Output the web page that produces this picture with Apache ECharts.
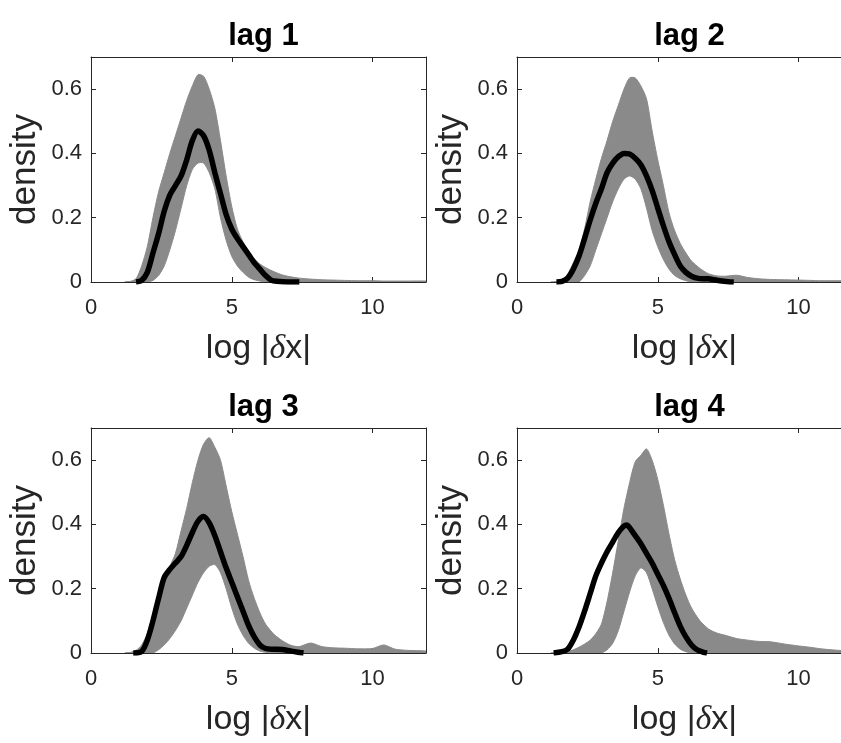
<!DOCTYPE html>
<html><head><meta charset="utf-8">
<script src="https://cdn.jsdelivr.net/npm/echarts@6/dist/echarts.min.js"></script>
<style>html,body{margin:0;padding:0;background:#fff}#c{width:841px;height:743px}</style>
</head><body><div id="c"></div>
<script>
// ---- data ----
const titles = ['lag 1', 'lag 2', 'lag 3', 'lag 4'];
const xTicks = [0, 5, 10];
const yTicks = [0, 0.2, 0.4, 0.6];
const xRange = [0, 11.9];
const yRange = [0, 0.7];
const xName = 'log |{d|δ}x|';
const yName = 'density';

// common x grid of the grey bootstrap band (upper / lower envelope of all grey curves)
const gx = [1.2,1.4,1.6,1.8,2.0,2.2,2.4,2.6,2.8,3.0,3.2,3.4,3.6,3.8,4.0,4.2,4.4,4.6,4.8,5.0,5.2,5.4,5.6,5.8,6.0,6.2,6.5,6.8,7.1,7.4,7.8,8.2,8.6,9.0,9.5,10.0,10.4,10.8,11.3,11.9];

const upper1 = [0,0.002,0.01,0.05,0.11,0.2,0.28,0.34,0.4,0.455,0.51,0.565,0.61,0.645,0.64,0.6,0.54,0.44,0.33,0.235,0.165,0.125,0.095,0.072,0.056,0.045,0.032,0.022,0.016,0.012,0.009,0.007,0.006,0.005,0.004,0.004,0.003,0.003,0.003,0.003];
const lower1 = [0,0,0,0,0,0.005,0.02,0.05,0.1,0.16,0.23,0.3,0.35,0.37,0.37,0.34,0.29,0.2,0.13,0.08,0.05,0.03,0.015,0.007,0.003,0,0,0,0,0,0,0,0,0,0,0,0,0,0,0];

const upper2 = [0,0.001,0.006,0.025,0.06,0.1,0.165,0.25,0.32,0.385,0.44,0.5,0.55,0.6,0.635,0.635,0.61,0.57,0.47,0.38,0.3,0.215,0.16,0.12,0.09,0.065,0.042,0.026,0.019,0.018,0.021,0.014,0.01,0.008,0.007,0.006,0.005,0.004,0.004,0.003];
const lower2 = [0,0,0,0,0,0,0.02,0.05,0.1,0.15,0.2,0.25,0.29,0.32,0.33,0.32,0.29,0.23,0.16,0.11,0.07,0.04,0.02,0.01,0.004,0,0,0,0,0,0,0,0,0,0,0,0,0,0,0];

const upper3 = [0,0.002,0.008,0.025,0.06,0.12,0.185,0.24,0.27,0.31,0.38,0.45,0.53,0.6,0.65,0.67,0.64,0.6,0.52,0.44,0.37,0.3,0.225,0.17,0.125,0.09,0.058,0.038,0.024,0.02,0.031,0.02,0.016,0.015,0.013,0.014,0.025,0.012,0.008,0.006];
const lower3 = [0,0,0,0,0,0,0.01,0.025,0.045,0.07,0.1,0.14,0.18,0.22,0.25,0.27,0.275,0.25,0.2,0.14,0.09,0.055,0.03,0.015,0.006,0.002,0,0,0,0,0,0,0,0,0,0,0,0,0,0];

const upper4 = [0,0,0.002,0.005,0.01,0.018,0.028,0.04,0.06,0.09,0.16,0.25,0.35,0.45,0.53,0.595,0.615,0.635,0.6,0.54,0.46,0.37,0.29,0.23,0.18,0.14,0.1,0.075,0.062,0.055,0.045,0.04,0.036,0.035,0.028,0.022,0.018,0.013,0.009,0.005];
const lower4 = [0,0,0,0,0,0,0,0,0,0,0.01,0.03,0.07,0.13,0.19,0.24,0.265,0.25,0.2,0.145,0.095,0.055,0.028,0.012,0.004,0,0,0,0,0,0,0,0,0,0,0,0,0,0,0];

// thick black density curve of each panel
const black1X = [1.6,1.8,2.0,2.2,2.4,2.6,2.8,3.0,3.2,3.4,3.6,3.8,4.0,4.2,4.4,4.6,4.8,5.0,5.2,5.4,5.6,5.8,6.0,6.2,6.4,6.6,7.0,7.4];
const black1Y = [0,0.005,0.03,0.09,0.15,0.22,0.27,0.30,0.33,0.38,0.44,0.47,0.455,0.41,0.34,0.275,0.21,0.165,0.135,0.11,0.085,0.06,0.04,0.02,0.006,0.002,0,0];

const black2X = [1.4,1.6,1.8,2.0,2.2,2.4,2.6,2.8,3.0,3.2,3.4,3.6,3.8,4.0,4.2,4.4,4.6,4.8,5.0,5.2,5.4,5.6,5.8,6.0,6.2,6.4,6.6,6.8,7.0,7.2,7.5,7.7];
const black2Y = [0,0.002,0.012,0.04,0.08,0.135,0.193,0.245,0.29,0.34,0.37,0.39,0.40,0.398,0.385,0.365,0.33,0.285,0.23,0.175,0.125,0.085,0.05,0.03,0.018,0.012,0.01,0.01,0.007,0.004,0.001,0];

const black3X = [1.5,1.8,2.0,2.2,2.4,2.6,2.8,3.0,3.2,3.4,3.6,3.8,4.0,4.2,4.4,4.6,4.8,5.0,5.2,5.4,5.6,5.8,6.0,6.2,6.4,6.6,6.8,7.0,7.3,7.55];
const black3Y = [0,0.005,0.04,0.1,0.17,0.235,0.26,0.28,0.3,0.335,0.375,0.41,0.425,0.405,0.365,0.315,0.265,0.22,0.175,0.13,0.085,0.05,0.025,0.014,0.012,0.012,0.011,0.008,0.003,0];

const black4X = [1.3,1.6,1.8,2.0,2.2,2.4,2.6,2.8,3.0,3.2,3.4,3.6,3.8,3.9,4.0,4.2,4.4,4.6,4.8,5.0,5.2,5.4,5.6,5.8,6.0,6.2,6.4,6.6,6.75];
const black4Y = [0,0.004,0.012,0.04,0.08,0.13,0.185,0.24,0.28,0.315,0.345,0.375,0.395,0.398,0.39,0.365,0.34,0.31,0.28,0.245,0.21,0.17,0.125,0.083,0.05,0.025,0.01,0.003,0];

// ---- build chart ----
const panels = [
  {U: upper1, L: lower1, bx: black1X, by: black1Y},
  {U: upper2, L: lower2, bx: black2X, by: black2Y},
  {U: upper3, L: lower3, bx: black3X, by: black3Y},
  {U: upper4, L: lower4, bx: black4X, by: black4Y}
];
const gridPos = [[91, 57], [517, 57], [91, 428], [517, 428]];
const GW = 335, GH = 225;
const AX = '#262626';
const FONT = '"Liberation Sans", Arial, sans-serif';
const BAND = '#8a8a8a';

const grid = [], xAxis = [], yAxis = [], series = [], title = [];
panels.forEach((p, i) => {
  const [l, t] = gridPos[i];
  grid.push({left: l, top: t, width: GW, height: GH, containLabel: false, outerBoundsMode: 'none'});
  title.push({text: titles[i], left: l + GW / 2, top: t - 41, textAlign: 'center',
    textStyle: {fontSize: 31, fontWeight: 'bold', color: '#000', fontFamily: FONT}});
  const lineSt = {show: true, onZero: false, lineStyle: {color: AX, width: 1}};
  xAxis.push({gridIndex: i, type: 'value', min: xRange[0], max: xRange[1], position: 'bottom',
    axisLine: lineSt,
    axisTick: {show: true, inside: true, length: 5, customValues: xTicks, lineStyle: {color: AX}},
    axisLabel: {show: true, customValues: xTicks, margin: 15, fontSize: 22, color: AX, fontFamily: FONT,
      formatter: v => xTicks.includes(v) ? String(v) : ''},
    splitLine: {show: false},
    name: xName, nameLocation: 'middle', nameGap: 50, nameMoveOverlap: false,
    nameTextStyle: {fontSize: 34, color: AX, fontFamily: FONT,
      rich: {d: {fontSize: 34, fontStyle: 'italic', fontFamily: '"Liberation Serif", serif', color: AX}}}});
  xAxis.push({gridIndex: i, type: 'value', min: xRange[0], max: xRange[1], position: 'top',
    axisLine: lineSt,
    axisTick: {show: true, inside: true, length: 5, customValues: xTicks, lineStyle: {color: AX}},
    axisLabel: {show: false}, splitLine: {show: false}});
  yAxis.push({gridIndex: i, type: 'value', min: yRange[0], max: yRange[1], position: 'left',
    axisLine: lineSt,
    axisTick: {show: true, inside: true, length: 5, customValues: yTicks, lineStyle: {color: AX}},
    axisLabel: {show: true, customValues: yTicks, margin: 9, fontSize: 22, color: AX, fontFamily: FONT,
      formatter: v => yTicks.includes(v) ? String(v) : ''},
    splitLine: {show: false},
    name: yName, nameLocation: 'middle', nameRotate: 90, nameGap: 48, nameMoveOverlap: false,
    nameTextStyle: {fontSize: 35, color: AX, fontFamily: FONT}});
  yAxis.push({gridIndex: i, type: 'value', min: yRange[0], max: yRange[1], position: 'right',
    axisLine: lineSt,
    axisTick: {show: true, inside: true, length: 5, customValues: yTicks, lineStyle: {color: AX}},
    axisLabel: {show: false}, splitLine: {show: false}});

  // grey band: polygon between upper and lower envelopes, placed via the axis scales
  series.push({
    type: 'custom', coordinateSystem: 'cartesian2d', xAxisIndex: 2 * i, yAxisIndex: 2 * i,
    clip: true, silent: true, z: 2, data: [[gx[0], 0]],
    renderItem: function (params, api) {
      const pts = [];
      for (let k = 0; k < gx.length; k++) pts.push(api.coord([gx[k], p.U[k]]));
      for (let k = gx.length - 1; k >= 0; k--) pts.push(api.coord([gx[k], p.L[k]]));
      return {type: 'polygon', shape: {points: pts, smooth: 0.25},
        style: {fill: BAND, stroke: BAND, lineWidth: 1}};
    }
  });
  series.push({
    type: 'line', xAxisIndex: 2 * i, yAxisIndex: 2 * i, z: 5, silent: true, clip: true,
    data: p.bx.map((x, k) => [x, p.by[k]]), symbol: 'none', smooth: 0.3,
    lineStyle: {color: '#000', width: 5.5, cap: 'butt'}
  });
});

const chart = echarts.init(document.getElementById('c'), null, {renderer: 'canvas'});
chart.setOption({backgroundColor: '#fff', animation: false, title, grid, xAxis, yAxis, series});
</script></body></html>
